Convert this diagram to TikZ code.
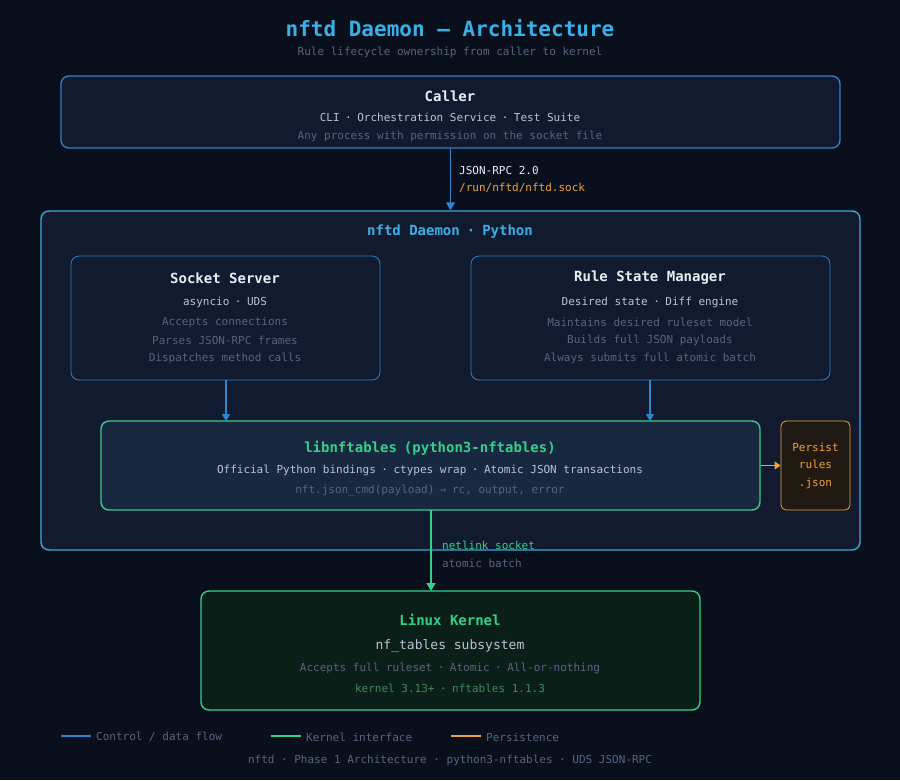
\documentclass[tikz,border=0pt]{standalone}
\usepackage{fontspec}
\setmonofont{DejaVu Sans Mono}
\usetikzlibrary{arrows.meta}
\definecolor{bg}{HTML}{0A0F1C}
\definecolor{boxfill}{HTML}{111A2E}
\definecolor{libfill}{HTML}{172840}
\definecolor{kernfill}{HTML}{0B1F19}
\definecolor{persfill}{HTML}{201A12}
\definecolor{callerline}{HTML}{2F7FC8}
\definecolor{daemonline}{HTML}{3AA8E0}
\definecolor{flowblue}{HTML}{2F86CC}
\definecolor{kgreen}{HTML}{34D08A}
\definecolor{dgreen}{HTML}{3F8A5C}
\definecolor{porange}{HTML}{F0A040}
\definecolor{titleblue}{HTML}{3AB0E8}
\definecolor{txtwhite}{HTML}{E6EDF5}
\definecolor{txtsec}{HTML}{B8C4D4}
\definecolor{txtdim}{HTML}{56657F}
\tikzset{
	box/.style={draw, rounded corners=8pt, line width=1.4pt, inner sep=0pt},
	inner box/.style={draw=callerline, fill=boxfill, rounded corners=8pt, line width=0.8pt, inner sep=0pt},
	txt/.style={font=\ttfamily\fontsize{11}{12}\selectfont, inner sep=0pt},
	head/.style={font=\ttfamily\bfseries\fontsize{14}{16}\selectfont, inner sep=0pt},
	flow/.style={line width=1.4pt, -{Triangle[length=8pt,width=9pt]}}
}
\begin{document}
\begin{tikzpicture}[x=1pt, y=-1pt]
	\fill[bg] (0,0) rectangle (900,780);
	\useasboundingbox (0,0) rectangle (900,780);
	% title
	\node[font=\ttfamily\bfseries\fontsize{21}{24}\selectfont, text=titleblue] (title) at (450,28) {nftd Daemon — Architecture};
	\node[txt, text=txtdim] (subtitle) at (450,52) {Rule lifecycle ownership from caller to kernel};
	% caller
	\node[box, draw=callerline, fill=boxfill, minimum width=779pt, minimum height=72pt] (caller) at (450.5,112) {};
	\node[head, text=txtwhite] (callerT) at (450,96) {Caller};
	\node[txt, text=txtsec] (callerA) at (450,117) {CLI\enspace·\enspace Orchestration Service\enspace·\enspace Test Suite};
	\node[txt, text=txtdim] (callerB) at (450,136) {Any process with permission on the socket file};
	% daemon
	\node[box, draw=daemonline, fill=boxfill, minimum width=819pt, minimum height=339pt] (daemon) at (450.5,380.5) {};
	\node[head, text=titleblue] (daemonT) at (450,232) {nftd Daemon\enspace·\enspace Python};
	\draw[flow, flowblue] (caller.south) -- (daemon.north)
		node[pos=0.35, right=8pt, txt, text=txtwhite] (rpc) {JSON-RPC 2.0}
		node[pos=0.63, right=8pt, txt, text=porange] (sock) {/run/nftd/nftd.sock};
	% socket server
	\node[inner box, minimum width=309pt, minimum height=124pt] (server) at (225.5,318) {};
	\node[head, text=txtwhite] (serverT) at (225,278) {Socket Server};
	\node[txt, text=txtsec] (serverA) at (225,302) {asyncio\enspace·\enspace UDS};
	\node[txt, text=txtdim] (serverB) at (225,322) {Accepts connections};
	\node[txt, text=txtdim] (serverC) at (225,340) {Parses JSON-RPC frames};
	\node[txt, text=txtdim] (serverD) at (225,358) {Dispatches method calls};
	% rule state manager
	\node[inner box, minimum width=359pt, minimum height=124pt] (state) at (650.5,318) {};
	\node[head, text=txtwhite] (stateT) at (650,278) {Rule State Manager};
	\node[txt, text=txtsec] (stateA) at (650,302) {Desired state\enspace·\enspace Diff engine};
	\node[txt, text=txtdim] (stateB) at (650,322) {Maintains desired ruleset model};
	\node[txt, text=txtdim] (stateC) at (650,340) {Builds full JSON payloads};
	\node[txt, text=txtdim] (stateD) at (650,358) {Always submits full atomic batch};
	% libnftables
	\node[box, draw=kgreen, fill=libfill, minimum width=659pt, minimum height=89pt] (lib) at (430.5,465.5) {};
	\node[head, text=kgreen] (libT) at (430,448) {libnftables\enspace(python3-nftables)};
	\node[txt, text=txtsec] (libA) at (430,470) {Official Python bindings\enspace·\enspace ctypes wrap\enspace·\enspace Atomic JSON transactions};
	\node[txt, text=txtdim] (libB) at (430,491) {nft.json\_cmd(payload)\enspace→\enspace rc, output, error};
	\coordinate (serverDrop) at (226,421);
	\coordinate (stateDrop) at (650,421);
	\draw[flowblue, line width=1.2pt, -{Triangle[length=7pt,width=8pt]}] (server.south -| serverDrop) -- (serverDrop);
	\draw[flowblue, line width=1.2pt, -{Triangle[length=7pt,width=8pt]}] (state.south -| stateDrop) -- (stateDrop);
	% persist
	\node[draw=porange, fill=persfill, rounded corners=5pt, line width=0.8pt, minimum width=69pt, minimum height=89pt,
		align=center, txt, text=porange, font=\ttfamily\fontsize{11}{17.5}\selectfont] (persist) at (815.5,465.5) {Persist\\rules\\.json};
	\draw[porange, line width=1.2pt, -{Triangle[length=6pt,width=8pt]}] (lib.east) -- (persist.west);
	% kernel
	\node[box, draw=kgreen, fill=kernfill, minimum width=499pt, minimum height=119pt] (kernel) at (450.5,650.5) {};
	\node[head, text=kgreen] (kernelT) at (450,620) {Linux Kernel};
	\node[txt, text=txtsec, font=\ttfamily\fontsize{13}{14}\selectfont] (kernelA) at (450,646) {nf\_tables subsystem};
	\node[txt, text=txtdim] (kernelB) at (450,668) {Accepts full ruleset\enspace·\enspace Atomic\enspace·\enspace All-or-nothing};
	\node[txt, text=dgreen] (kernelC) at (450,688) {kernel 3.13+\enspace·\enspace nftables 1.1.3};
	\coordinate (libOut) at (431,510);
	\coordinate (kernIn) at (431,591);
	\draw[flow, kgreen] (libOut) -- (kernIn);
	\node[txt, text=kgreen, anchor=west] (netlink) at (442,545) {netlink socket};
	\node[txt, text=txtdim, anchor=west] (batch) at (442,563) {atomic batch};
	% legend
	\coordinate (lgA) at (61,736); \coordinate (lgB) at (91,736);
	\coordinate (lgC) at (271,736); \coordinate (lgD) at (301,736);
	\coordinate (lgE) at (451,736); \coordinate (lgF) at (481,736);
	\draw[flowblue, line width=1.8pt] (lgA) -- (lgB);
	\draw[kgreen, line width=1.8pt] (lgC) -- (lgD);
	\draw[porange, line width=1.8pt] (lgE) -- (lgF);
	\node[txt, text=txtdim, anchor=west] (lgFlow) at (96,737) {Control / data flow};
	\node[txt, text=txtdim, anchor=west] (lgKern) at (306,737) {Kernel interface};
	\node[txt, text=txtdim, anchor=west] (lgPers) at (486,737) {Persistence};
	\node[txt, text=txtdim] (footer) at (450,760) {nftd · Phase 1 Architecture · python3-nftables · UDS JSON-RPC};
\end{tikzpicture}
\end{document}
